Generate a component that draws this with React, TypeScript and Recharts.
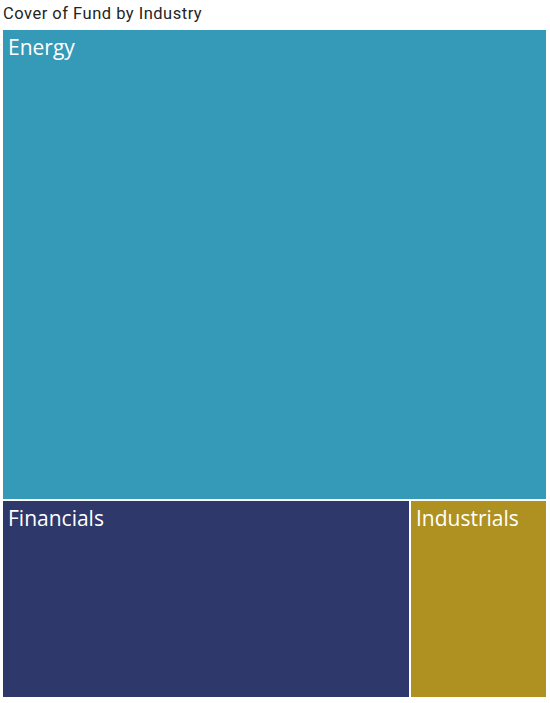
import { Treemap } from 'recharts'

const industries = ['Energy', 'Financials', 'Industrials']
const cover = [70.3, 22.1, 7.4]
const colors = ['#3599B8', '#2E386B', '#AF9121']

const data = industries.map((name, i) => ({ name, value: cover[i] }))

function Tile(props: any) {
  const { x, y, width, height, depth, index, name } = props
  if (depth !== 1) return null
  return (
    <g>
      <rect
        x={x}
        y={y}
        width={width}
        height={height}
        fill={colors[index % colors.length]}
        stroke="#fff"
        strokeWidth={2}
      />
      <text
        x={x + 6}
        y={y + 26}
        fill="#fff"
        fontSize={21}
        fontFamily="'Open Sans', 'Noto Sans', sans-serif"
      >
        {name}
      </text>
    </g>
  )
}

export default function App() {
  return (
    <div
      style={{
        position: 'absolute',
        left: 0,
        top: 0,
        width: 550,
        height: 703,
        background: '#fff',
      }}
    >
      <div
        style={{
          position: 'absolute',
          left: 3,
          top: 4,
          fontSize: 16.5,
          letterSpacing: 0.5,
          color: '#252423',
          fontFamily: "Roboto, 'DejaVu Sans', sans-serif",
        }}
      >
        Cover of Fund by Industry
      </div>
      <div style={{ position: 'absolute', left: 2, top: 29 }}>
        <Treemap
          width={545}
          height={669}
          data={data}
          dataKey="value"
          nameKey="name"
          content={<Tile />}
          isAnimationActive={false}
        />
      </div>
    </div>
  )
}
